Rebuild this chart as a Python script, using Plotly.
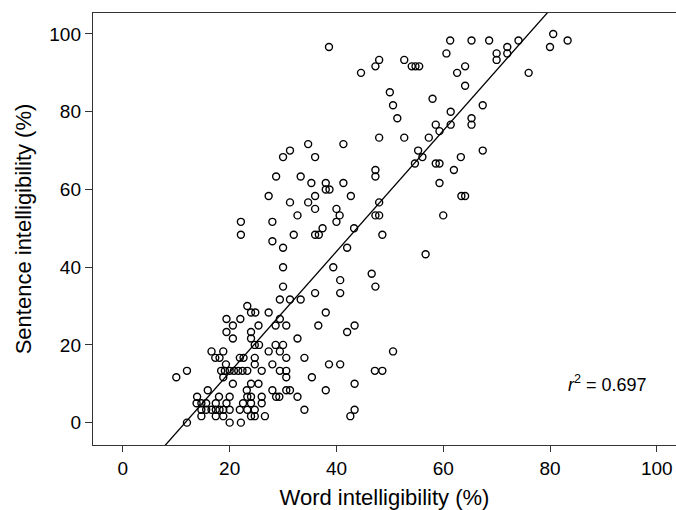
import plotly.graph_objects as go

# Word intelligibility (%) for each talker/listener point
word_pct = [
    80.6,
    61.3, 65.3, 68.6, 74.1, 83.3,
    38.6, 72.0, 80.0,
    60.6, 70.0, 72.0,
    48.0, 52.7, 70.0,
    47.3, 54.1, 54.8, 55.5, 64.1,
    44.6, 62.6, 76.0,
    64.1,
    50.0,
    58.0,
    50.6, 67.4,
    61.4,
    51.4, 65.3,
    58.6, 61.4, 65.3,
    59.3,
    48.0, 52.7, 57.3,
    34.7, 41.3,
    31.3, 55.3, 67.4,
    30.0, 36.0, 56.1, 63.3,
    54.7, 58.6, 59.3,
    47.3, 62.0,
    28.7, 33.3, 47.3,
    35.3, 38.0, 41.3, 59.3,
    38.0, 38.7,
    27.3, 36.0, 42.7, 63.4, 64.1,
    31.3, 34.7, 48.0,
    36.0, 40.0,
    32.7, 40.6, 47.3, 48.0, 60.0,
    22.1, 28.0, 40.0,
    37.4, 43.3,
    22.1, 32.0, 36.0, 36.7, 48.6,
    28.0,
    30.0, 42.0,
    56.7,
    30.0, 39.4,
    46.6,
    40.7,
    30.0, 47.3,
    36.0, 40.7,
    29.4, 31.3, 33.3,
    23.3,
    24.0, 24.8, 27.3, 38.0,
    19.4, 22.0, 29.4,
    20.6, 25.4, 28.6, 30.6, 36.6, 43.4,
    19.4, 24.0, 42.0,
    20.6, 24.0, 32.7,
    24.7, 25.5, 28.6, 30.0,
    16.6, 18.8, 27.3, 29.4, 50.6,
    17.3, 18.1, 21.9, 22.6, 24.7, 30.6, 34.0,
    19.3, 24.7, 28.0, 38.6, 40.7,
    12.0, 18.4, 19.1, 20.0, 20.8, 21.6, 22.4, 23.3, 26.0, 29.4, 30.6, 47.2, 48.6,
    10.0, 18.8, 30.6, 35.4,
    20.6, 24.0, 25.4, 43.4,
    15.9, 23.2, 28.0, 30.6, 31.3, 38.0,
    13.9, 18.0, 20.0, 23.3, 24.0, 26.0, 28.7, 29.3, 32.7,
    13.8, 14.7, 15.6, 17.4, 19.4, 22.5, 24.0, 26.0,
    14.7, 15.6, 16.6, 17.4, 18.1, 18.8, 20.0, 21.9, 23.3, 24.7, 34.0, 43.4,
    14.7, 17.4, 18.8, 24.0, 24.7, 26.6, 42.6,
    12.0, 20.0, 22.1,
]

# Sentence intelligibility (%) for the same points
sentence_pct = (
    [100.0] * 1
    + [98.33] * 5
    + [96.67] * 3
    + [95.0] * 3
    + [93.33] * 3
    + [91.67] * 5
    + [90.0] * 3
    + [86.67] * 1
    + [85.0] * 1
    + [83.33] * 1
    + [81.67] * 2
    + [80.0] * 1
    + [78.33] * 2
    + [76.67] * 3
    + [75.0] * 1
    + [73.33] * 3
    + [71.67] * 2
    + [70.0] * 3
    + [68.33] * 4
    + [66.67] * 3
    + [65.0] * 2
    + [63.33] * 3
    + [61.67] * 4
    + [60.0] * 2
    + [58.33] * 5
    + [56.67] * 3
    + [55.0] * 2
    + [53.33] * 5
    + [51.67] * 3
    + [50.0] * 2
    + [48.33] * 5
    + [46.67] * 1
    + [45.0] * 2
    + [43.33] * 1
    + [40.0] * 2
    + [38.33] * 1
    + [36.67] * 1
    + [35.0] * 2
    + [33.33] * 2
    + [31.67] * 3
    + [30.0] * 1
    + [28.33] * 4
    + [26.67] * 3
    + [25.0] * 6
    + [23.33] * 3
    + [21.67] * 3
    + [20.0] * 4
    + [18.33] * 5
    + [16.67] * 7
    + [15.0] * 5
    + [13.33] * 13
    + [11.67] * 4
    + [10.0] * 4
    + [8.33] * 6
    + [6.67] * 9
    + [5.0] * 8
    + [3.33] * 12
    + [1.67] * 7
    + [0.0] * 3
)

# Linear regression line (as drawn in the figure)
fit_slope = 1.5545
fit_intercept = -18.14
r_squared = "0.697"

x_ticks = [0, 20, 40, 60, 80, 100]
y_ticks = [0, 20, 40, 60, 80, 100]
x_range = [-5.6, 103.6]
y_range = [-5.75, 105.4]

font_family = "Liberation Sans, Arial, sans-serif"

fig = go.Figure()

fig.add_trace(go.Scatter(
    x=word_pct, y=sentence_pct, mode="markers",
    marker=dict(symbol="circle-open", size=7, color="black",
                line=dict(width=1.4, color="black")),
    showlegend=False, hoverinfo="x+y",
))

fit_x = [x_range[0], x_range[1]]
fit_y = [fit_intercept + fit_slope * v for v in fit_x]
fig.add_trace(go.Scatter(
    x=fit_x, y=fit_y, mode="lines",
    line=dict(color="black", width=1.3),
    showlegend=False, hoverinfo="skip",
))

fig.add_annotation(
    x=90.7, y=10.2, xref="x", yref="y",
    text="<i>r</i><sup>2</sup> = " + r_squared,
    showarrow=False,
    font=dict(family=font_family, size=18, color="black"),
)

fig.update_layout(
    width=676, height=510,
    margin=dict(l=93, r=0, t=13, b=65),
    paper_bgcolor="white", plot_bgcolor="white",
    font=dict(family=font_family, color="black"),
)

fig.update_xaxes(
    range=x_range, tickvals=x_ticks, ticktext=[str(v) for v in x_ticks],
    automargin=False,
    showgrid=False, zeroline=False,
    showline=True, linecolor="#333", linewidth=1.4, mirror=True,
    ticks="outside", ticklen=6, tickwidth=1.2, tickcolor="#333",
    tickfont=dict(size=19, family=font_family, color="black"),
    title=dict(text="Word intelligibility (%)", standoff=14,
               font=dict(size=22, family=font_family, color="black")),
)
fig.update_yaxes(
    range=y_range, tickvals=y_ticks, ticktext=[str(v) for v in y_ticks],
    automargin=False,
    showgrid=False, zeroline=False,
    showline=True, linecolor="#333", linewidth=1.4, mirror=False,
    ticks="outside", ticklen=7, tickwidth=1.2, tickcolor="#333",
    tickfont=dict(size=19, family=font_family, color="black"),
    title=dict(text="Sentence intelligibility (%)", standoff=11,
               font=dict(size=22, family=font_family, color="black")),
)

assert len(word_pct) == len(sentence_pct)

fig.write_html(
    "out.html",
    config={"displayModeBar": False},
    post_script="document.body.style.margin='0';document.body.style.overflow='hidden';",
)
